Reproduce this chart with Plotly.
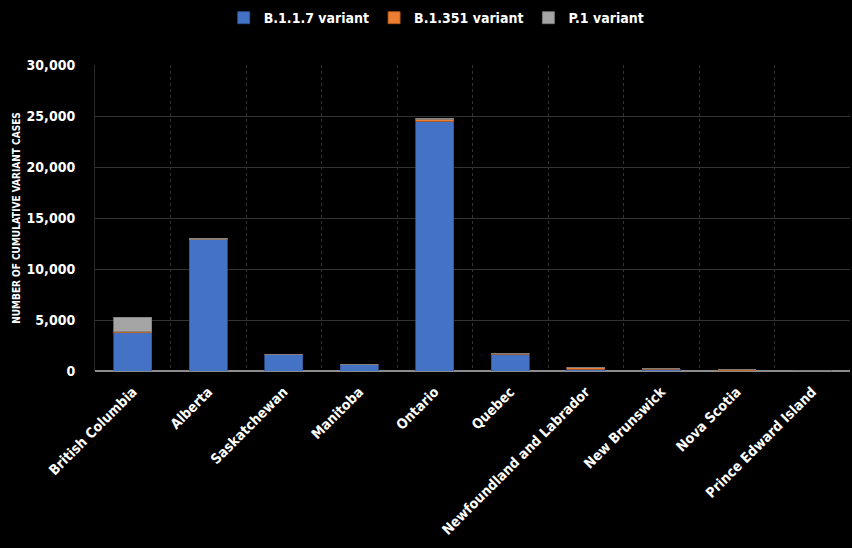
import plotly.graph_objects as go

provinces = ["British Columbia", "Alberta", "Saskatchewan", "Manitoba", "Ontario",
             "Quebec", "Newfoundland and Labrador", "New Brunswick", "Nova Scotia",
             "Prince Edward Island"]
b117 = [3730, 12850, 1580, 590, 24480, 1620, 150, 170, 30, 90]
b1351 = [110, 70, 50, 60, 200, 100, 200, 40, 70, 0]
p1 = [1450, 90, 10, 10, 80, 10, 0, 10, 0, 0]

series = [
    ("B.1.1.7 variant", b117, "#4472C4", "#2F5597"),
    ("B.1.351 variant", b1351, "#ED7D31", "#B85A1C"),
    ("P.1 variant", p1, "#A5A5A5", "#7F7F7F"),
]

font_family = "'DejaVu Sans Condensed', 'Liberation Sans Narrow', sans-serif"

fig = go.Figure()
for name, vals, color, edge in series:
    fig.add_trace(go.Bar(
        name=name, x=provinces, y=vals,
        marker=dict(color=color, line=dict(color=edge, width=0.8)),
    ))

fig.update_layout(
    barmode="stack",
    bargap=0.5,
    width=852, height=548,
    paper_bgcolor="black", plot_bgcolor="black",
    margin=dict(l=95, r=2, t=65, b=177, autoexpand=False),
    font=dict(family=font_family, color="white", size=16, weight="bold"),
    legend=dict(orientation="h", xref="container", x=0.512, xanchor="center",
                yref="container", y=0.967, yanchor="middle",
                font=dict(size=14, color="white"), traceorder="normal",
                itemwidth=30),
    showlegend=True,
)
fig.update_xaxes(
    type="category", tickson="boundaries", showgrid=True,
    gridcolor="#333333", griddash="dot", gridwidth=1,
    tickangle=-45, tickfont=dict(size=14, color="white"),
    ticklabelstandoff=9,
    showline=False, ticks="",
)
fig.update_yaxes(
    range=[0, 30000], dtick=5000, tickformat=",",
    showgrid=True, gridcolor="#333333", gridwidth=1,
    zeroline=True, zerolinecolor="#8c8c8c", zerolinewidth=2,
    showline=True, linecolor="#2a2a2a", linewidth=1,
    tickfont=dict(size=14, color="white"),
    ticklabelstandoff=16,
    title=dict(text="NUMBER OF CUMULATIVE VARIANT CASES", font=dict(size=10, color="white"),
               standoff=4),
    ticks="", ticklen=0,
)
fig.write_html("out.html")
